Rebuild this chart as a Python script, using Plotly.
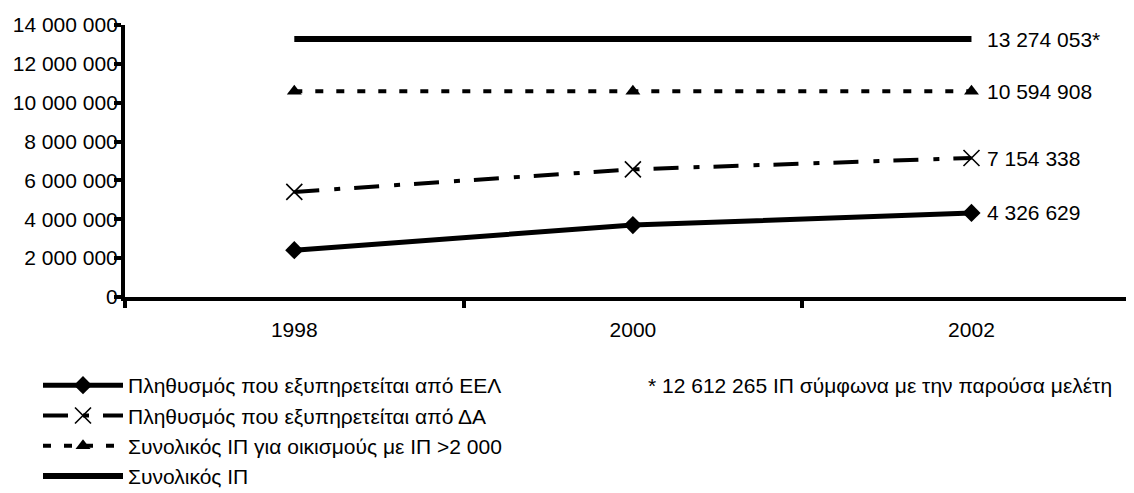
import plotly.graph_objects as go

years = ["1998", "2000", "2002"]
eel = [2410000, 3700000, 4326629]
da = [5410000, 6570000, 7154338]
ip_2000 = [10594908, 10594908, 10594908]
ip_total = [13274053, 13274053, 13274053]

names = [
    "Πληθυσμός που εξυπηρετείται από ΕΕΛ",
    "Πληθυσμός που εξυπηρετείται από ΔΑ",
    "Συνολικός ΙΠ για οικισμούς με ΙΠ >2 000",
    "Συνολικός ΙΠ",
]
end_labels = ["4 326 629", "7 154 338", "10 594 908", "13 274 053*"]
footnote = "* 12 612 265 ΙΠ σύμφωνα με την παρούσα μελέτη"

FONT = "Liberation Sans, Arial, sans-serif"
FS = 21
OFF = 8  # page body margin
W = 1134 - OFF
H = 530  # extra room below the visible window so the legend never shrinks the plot
L, T = 125 - OFF, 25 - OFF
BOT = 297 - OFF
B = H - BOT
plot_w = W - L
plot_h = BOT - T


def px_x(page_x):
    return (page_x - OFF - L) / plot_w


def px_y(page_y):
    return (BOT - (page_y - OFF)) / plot_h


fig = go.Figure()
fig.add_trace(go.Scatter(x=years, y=eel, name=names[0], mode="lines+markers",
                         line=dict(color="black", width=5),
                         marker=dict(symbol="diamond", size=14, color="black")))
fig.add_trace(go.Scatter(x=years, y=da, name=names[1], mode="lines+markers",
                         line=dict(color="black", width=4, dash="25px,15px,6px,14px"),
                         marker=dict(symbol="x-thin", size=16, color="black",
                                     line=dict(color="black", width=1.6))))
fig.add_trace(go.Scatter(x=years, y=ip_2000, name=names[2], mode="lines+markers",
                         line=dict(color="black", width=4, dash="8px,13px"),
                         marker=dict(symbol="triangle-up", size=13, color="black")))
fig.add_trace(go.Scatter(x=years, y=ip_total, name=names[3], mode="lines",
                         line=dict(color="black", width=6)))

series = [eel, da, ip_2000, ip_total]
last_idx = len(years) - 1
for s, lab in zip(series, end_labels):
    fig.add_annotation(x=last_idx, y=s[-1], xref="x", yref="y", text=lab,
                       showarrow=False, xanchor="left", yanchor="middle", xshift=14,
                       font=dict(family=FONT, size=FS, color="black"))

fig.add_annotation(x=px_x(646), y=px_y(385), xref="paper", yref="paper",
                   text=footnote, showarrow=False, xanchor="left", yanchor="middle",
                   font=dict(family=FONT, size=FS, color="black"))

fig.update_layout(
    width=W, height=H,
    margin=dict(l=L, r=0, t=T, b=B),
    paper_bgcolor="white", plot_bgcolor="white",
    separators=", ",
    font=dict(family=FONT, size=FS, color="black"),
    showlegend=True,
    legend=dict(x=px_x(38), y=px_y(365), xanchor="left", yanchor="top",
                xref="paper", yref="paper",
                itemwidth=80, bgcolor="rgba(0,0,0,0)",
                font=dict(family=FONT, size=FS, color="black")),
)
fig.update_xaxes(type="category", range=[-0.5, 2.48], showline=True, linecolor="black", linewidth=4,
                 ticks="outside", tickson="boundaries", ticklen=7, tickwidth=4, tickcolor="black",
                 showgrid=False, zeroline=False, ticklabelstandoff=11,
                 tickfont=dict(family=FONT, size=FS, color="black"))
fig.update_yaxes(range=[0, 14000000], dtick=2000000, tickformat=",d", showline=True,
                 linecolor="black", linewidth=4, ticks="outside", ticklen=7, tickwidth=4,
                 tickcolor="black", showgrid=False, zeroline=False, ticklabelstandoff=-8,
                 tickfont=dict(family=FONT, size=FS, color="black"))

fig.write_html("out.html")
